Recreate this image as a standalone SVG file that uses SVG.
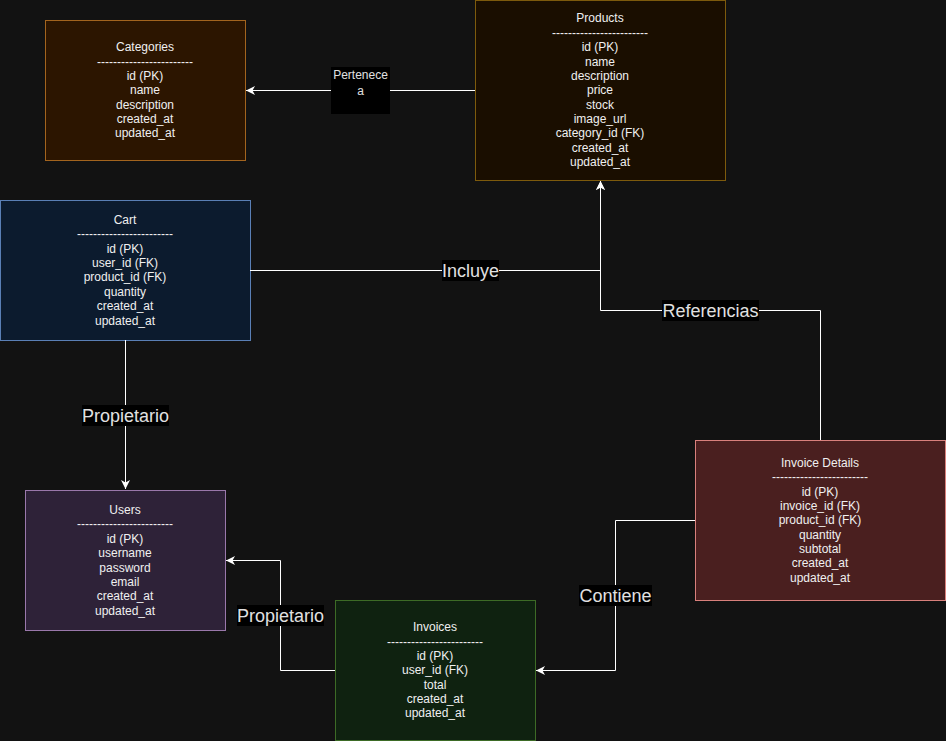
<svg xmlns="http://www.w3.org/2000/svg" width="946" height="741" viewBox="0 0 946 741">
<defs>
<style>
.box text{font-family:"Liberation Sans",Arial,sans-serif;font-size:12px;fill:#f0f0f0;text-anchor:middle}
.edge{fill:none;stroke:#ffffff;stroke-width:1}
.lbl{fill:#000000}
.lt{font-family:"Liberation Sans",Arial,sans-serif;font-size:18px;fill:#e0e0e0;text-anchor:middle}
.lts{font-family:"Liberation Sans",Arial,sans-serif;font-size:12px;fill:#e0e0e0;text-anchor:middle}
</style>
<marker id="arr" markerWidth="10" markerHeight="10" refX="9" refY="4.5" orient="auto" markerUnits="userSpaceOnUse">
<path d="M0,0 L9,4.5 L0,9 L2.5,4.5 Z" fill="#ffffff"/>
</marker>
</defs>
<rect width="946" height="741" fill="#121212"/>

<g id="categories" class="box">
<rect x="45.5" y="20.5" width="200" height="140" fill="#2c1500" stroke="#a3641e"/>
<text x="145" y="51">Categories</text>
<text x="145" y="66">------------------------</text>
<text x="145" y="80">id (PK)</text>
<text x="145" y="94">name</text>
<text x="145" y="109">description</text>
<text x="145" y="123">created_at</text>
<text x="145" y="137">updated_at</text>
</g>

<g id="products" class="box">
<rect x="475.5" y="0.5" width="250" height="180" fill="#1a0e00" stroke="#7d5a0c"/>
<text x="600" y="22">Products</text>
<text x="600" y="37">------------------------</text>
<text x="600" y="51">id (PK)</text>
<text x="600" y="66">name</text>
<text x="600" y="80">description</text>
<text x="600" y="94">price</text>
<text x="600" y="109">stock</text>
<text x="600" y="123">image_url</text>
<text x="600" y="137">category_id (FK)</text>
<text x="600" y="152">created_at</text>
<text x="600" y="166">updated_at</text>
</g>

<g id="cart" class="box">
<rect x="0.5" y="200.5" width="250" height="140" fill="#0c1b2e" stroke="#5a7fb5"/>
<text x="125" y="224">Cart</text>
<text x="125" y="238">------------------------</text>
<text x="125" y="253">id (PK)</text>
<text x="125" y="267">user_id (FK)</text>
<text x="125" y="281">product_id (FK)</text>
<text x="125" y="296">quantity</text>
<text x="125" y="310">created_at</text>
<text x="125" y="325">updated_at</text>
</g>

<g id="users" class="box">
<rect x="25.5" y="490.5" width="200" height="140" fill="#2e2238" stroke="#9a78ab"/>
<text x="125" y="514">Users</text>
<text x="125" y="528">------------------------</text>
<text x="125" y="543">id (PK)</text>
<text x="125" y="557">username</text>
<text x="125" y="572">password</text>
<text x="125" y="586">email</text>
<text x="125" y="600">created_at</text>
<text x="125" y="615">updated_at</text>
</g>

<g id="invoices" class="box">
<rect x="335.5" y="600.5" width="200" height="140" fill="#0f2210" stroke="#3d6b26"/>
<text x="435" y="631">Invoices</text>
<text x="435" y="646">------------------------</text>
<text x="435" y="660">id (PK)</text>
<text x="435" y="674">user_id (FK)</text>
<text x="435" y="689">total</text>
<text x="435" y="703">created_at</text>
<text x="435" y="717">updated_at</text>
</g>

<g id="invoice-details" class="box">
<rect x="695.5" y="440.5" width="250" height="160" fill="#4a1f1f" stroke="#d9807c"/>
<text x="820" y="467">Invoice Details</text>
<text x="820" y="481">------------------------</text>
<text x="820" y="496">id (PK)</text>
<text x="820" y="510">invoice_id (FK)</text>
<text x="820" y="524">product_id (FK)</text>
<text x="820" y="539">quantity</text>
<text x="820" y="553">subtotal</text>
<text x="820" y="567">created_at</text>
<text x="820" y="582">updated_at</text>
</g>

<g id="connectors">
<path class="edge" d="M475,90.5 L246,90.5" marker-end="url(#arr)"/>
<path class="edge" d="M250,270.5 L600.5,270.5 L600.5,181" marker-end="url(#arr)"/>
<path class="edge" d="M820.5,440 L820.5,310.5 L600.5,310.5 L600.5,181" marker-end="url(#arr)"/>
<path class="edge" d="M125.5,340 L125.5,489" marker-end="url(#arr)"/>
<path class="edge" d="M335,670.5 L280.5,670.5 L280.5,560.5 L226,560.5" marker-end="url(#arr)"/>
<path class="edge" d="M695,520.5 L615.5,520.5 L615.5,670.5 L536,670.5" marker-end="url(#arr)"/>

<rect class="lbl" x="331" y="67" width="59" height="47"/>
<text class="lts" x="360.5" y="79">Pertenece</text>
<text class="lts" x="360.5" y="95">a</text>

<rect class="lbl" x="442" y="260" width="57" height="21"/>
<text class="lt" x="470.5" y="277">Incluye</text>

<rect class="lbl" x="662" y="300" width="97" height="21"/>
<text class="lt" x="710.5" y="317">Referencias</text>

<rect class="lbl" x="82" y="405" width="87" height="21"/>
<text class="lt" x="125.5" y="422">Propietario</text>

<rect class="lbl" x="237" y="605" width="87" height="21"/>
<text class="lt" x="280.5" y="622">Propietario</text>

<rect class="lbl" x="579" y="585" width="73" height="21"/>
<text class="lt" x="615.5" y="602">Contiene</text>
</g>
</svg>
